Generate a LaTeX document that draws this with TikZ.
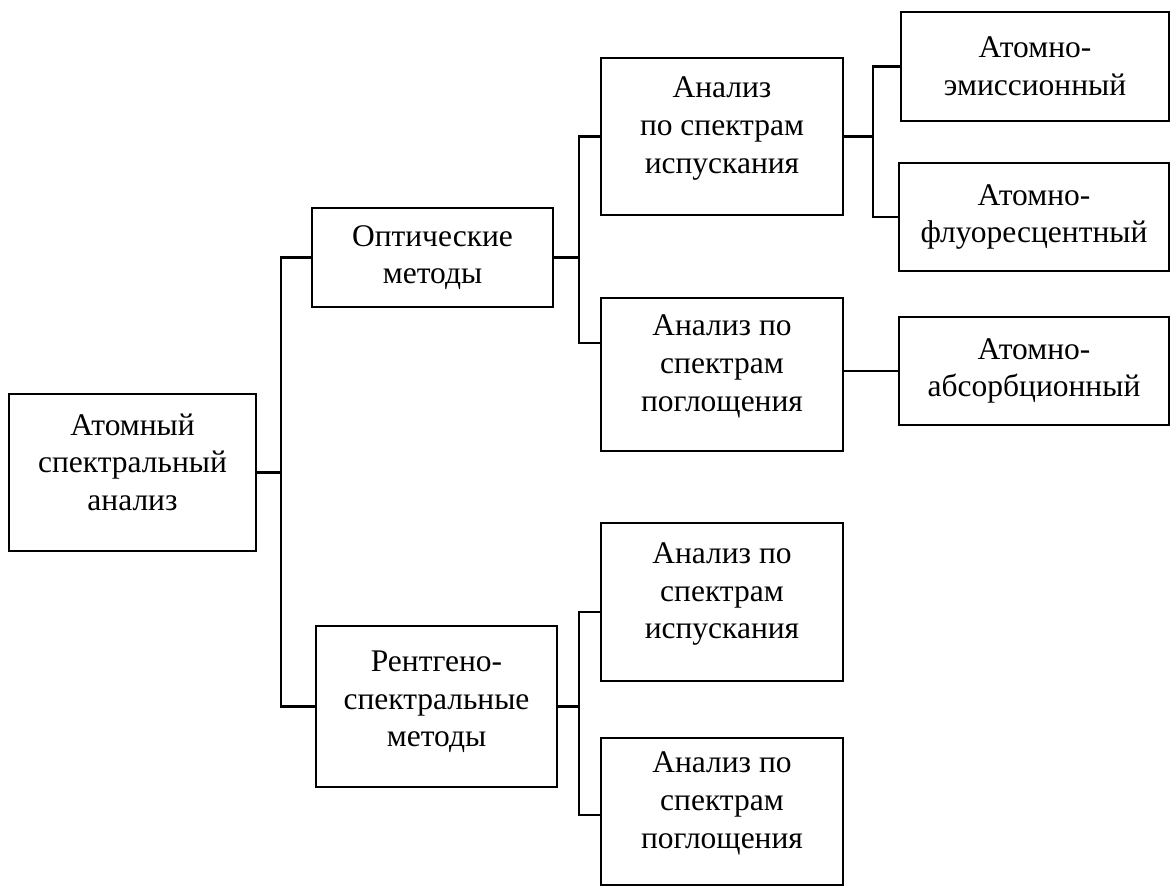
\documentclass[tikz,border=0pt]{standalone}
\usepackage{fontspec}
\setmainfont{Liberation Serif}
\usetikzlibrary{positioning,calc}
\tikzset{
  box/.style={
    shape = rectangle,
    draw,
    line width = 1.5pt,
    align = center,
    inner sep = 0pt,
    font = \fontsize{22.4}{26.8}\selectfont
  },
  lift/.style={
    text depth = #1
  },
}
\tikzset{
  wire/.style={
    line width = 1.5pt
  },
}
\begin{document}
\begin{tikzpicture}[x=0.025cm, y=-0.025cm]
        \useasboundingbox (0,0) rectangle (1172,888);

        \node[box, lift=15pt, minimum width=247*0.025cm, minimum height=157*0.025cm] (root) at (132.5,472.5) {Атомный\\спектральный\\анализ};
        \node[box, minimum width=241*0.025cm, minimum height=99*0.025cm] (opt) at (432.5,257.5) {Оптические\\методы};
        \node[box, lift=11pt, minimum width=241*0.025cm, minimum height=161*0.025cm] (xray) at (436.5,706.5) {Рентгено-\\спектральные\\методы};

        \node[box, lift=16pt, minimum width=242*0.025cm, minimum height=157*0.025cm] (emi) at (722,136.5) {Анализ\\по спектрам\\испускания};
        \node[box, lift=16pt, minimum width=242*0.025cm, minimum height=153*0.025cm] (abs) at (722,374.5) {Анализ по\\спектрам\\поглощения};
        \node[box, lift=16pt, minimum width=242*0.025cm, minimum height=158*0.025cm] (xemi) at (722,602) {Анализ по\\спектрам\\испускания};
        \node[box, lift=16pt, minimum width=242*0.025cm, minimum height=147*0.025cm] (xabs) at (722,811.5) {Анализ по\\спектрам\\поглощения};

        \node[box, minimum width=268*0.025cm, minimum height=109*0.025cm] (aes) at (1035,66.5) {Атомно-\\эмиссионный};
        \node[box, minimum width=270*0.025cm, minimum height=108*0.025cm] (afs) at (1034,217) {Атомно-\\флуоресцентный};
        \node[box, minimum width=270*0.025cm, minimum height=108*0.025cm] (aas) at (1034,371) {Атомно-\\абсорбционный};

        \coordinate (absin) at (601,343);
        \coordinate (xemiin) at (601,612);
        \coordinate (xabsin) at (601,815);

        \draw[wire] (root.east) -- ++(24,0) coordinate (rj);
        \draw[wire] (opt.west) -| (rj);
        \draw[wire] (xray.west) -| (rj);

        \draw[wire] (opt.east) -- ++(25,0) coordinate (oj);
        \draw[wire] (emi.west) -| (oj);
        \draw[wire] (absin) -| (oj);

        \draw[wire] (xray.east) -- ++(21,0) coordinate (xj);
        \draw[wire] (xemiin) -| (xj);
        \draw[wire] (xabsin) -| (xj);

        \draw[wire] (emi.east) -- ++(29,0) coordinate (ej);
        \draw[wire] (aes.west) -| (ej);
        \draw[wire] (afs.west) -| (ej);

        \draw[wire] (aas.west -| abs.east) -- (aas.west);
\end{tikzpicture}
\end{document}
